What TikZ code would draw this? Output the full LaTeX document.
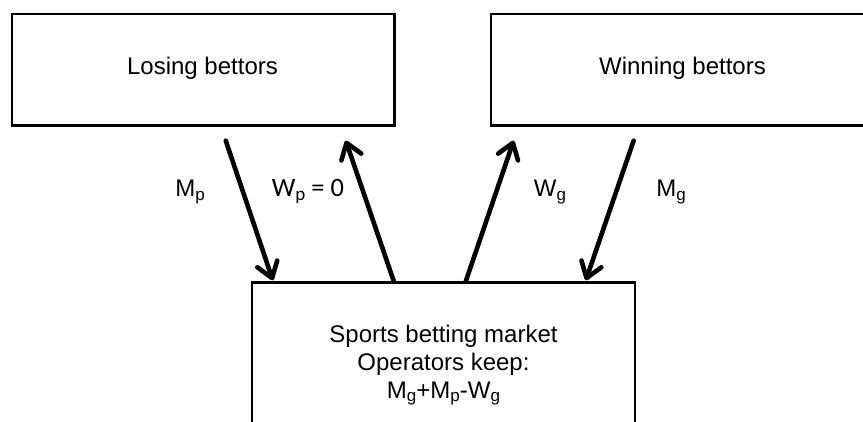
\documentclass[tikz,border=0pt]{standalone}
\usepackage{fontspec}
\setmainfont{Liberation Sans}
\newfontfamily\calfont{Carlito}
\usetikzlibrary{arrows.meta}
% lowered, smaller index letter
\newcommand{\lowidx}[1]{\raisebox{-4pt}{\fontsize{17}{17}\selectfont #1}}

\begin{document}
\begin{tikzpicture}[x=1pt,y=-1pt,
  every node/.style={font=\fontsize{24}{28}\selectfont},
  party/.style={draw, line width=2.6pt, minimum width=382.5pt,
    minimum height=111.3pt, inner sep=0pt},
  marketbox/.style={draw, line width=2.4pt, minimum width=383pt,
    minimum height=200pt, inner sep=0pt},
  txt/.style={anchor=base, inner sep=0pt},
  flow/.style={line width=4.6pt, line cap=round,
    -{Straight Barb[length=15pt, width=21pt, line width=4.6pt, round]}}]

\useasboundingbox (0,0) rectangle (863,422);
\fill[white] (0,0) rectangle (863,422);
\clip (0,0) rectangle (863,422);

% the three parties
\node[party] (lose) at (203.3,69.7) {};
\node[party] (win) at (682.2,69.7) {};
\node[marketbox] (market) at (443.5,382.5) {};

\node[txt] at (202.5,75) {Losing bettors};
\node[txt] at (682.5,75) {Winning bettors};

\node[txt] at (443.5,343) {Sports betting market};
\node[txt] at (443.5,370.5) {Operators keep:};
\node[txt] at (443.5,398) {M\lowidx{g}+M\lowidx{p}-W\lowidx{g}};

% arrow ends
\coordinate (mp-from) at ([shift={(215,14)}]lose.south west);
\coordinate (mp-to)   at ([shift={(22,-1)}]market.north west);
\coordinate (wp-from) at ([shift={(143,0)}]market.north west);
\coordinate (wp-to)   at ([shift={(335,14)}]lose.south west);
\coordinate (wg-from) at ([shift={(215,0)}]market.north west);
\coordinate (wg-to)   at ([shift={(24,14)}]win.south west);
\coordinate (mg-from) at ([shift={(144,14)}]win.south west);
\coordinate (mg-to)   at ([shift={(335,-1)}]market.north west);

% money flows
\draw[flow] (mp-from) -- (mp-to);
\draw[flow] (wp-from) -- (wp-to);
\draw[flow] (wg-from) -- (wg-to);
\draw[flow] (mg-from) -- (mg-to);

% flow labels
\node[txt] (lmp) at (190,196.5) {M\lowidx{p}};
\node[txt] (lwp) at (308,196.5)
  {\fontsize{26.5}{30}\calfont W\raisebox{-4pt}{\fontsize{19}{19}\selectfont p}\ =\ 0};
\node[txt] (lwg) at (550,196.5) {W\lowidx{g}};
\node[txt] (lmg) at (671,196.5) {M\lowidx{g}};
\end{tikzpicture}
\end{document}
